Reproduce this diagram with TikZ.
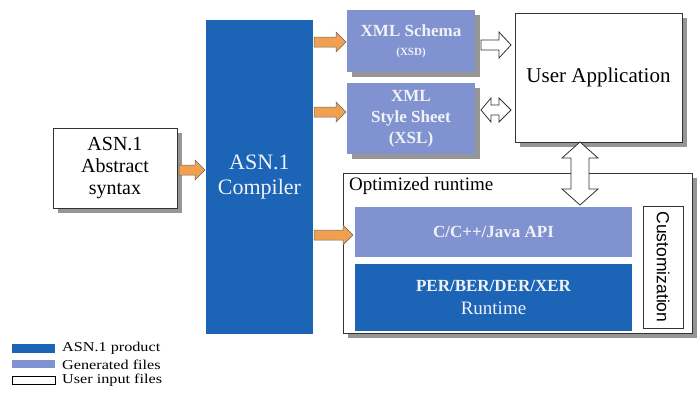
\documentclass[tikz,border=0pt]{standalone}
\usepackage{fontspec}
\setmainfont{Liberation Serif}
\newfontfamily\arialf{Liberation Sans}
\newfontfamily\legf[FakeStretch=1.2]{Liberation Serif}
\usetikzlibrary{calc}
\definecolor{darkblue}{RGB}{28,100,182}
\definecolor{lightblue}{RGB}{128,147,208}
\definecolor{orangef}{RGB}{240,160,80}
\definecolor{shadowgray}{RGB}{150,150,150}
\definecolor{txtwhite}{RGB}{240,242,248}
\begin{document}
\begin{tikzpicture}[x=1pt,y=-1pt,
  box/.style={draw=black!80,line width=0.9pt,fill=white,inner sep=0pt,align=center},
  shadowed/.style={preaction={fill=shadowgray,transform canvas={xshift=5pt,yshift=-5pt}}},
  gen/.style={fill=lightblue,draw=none,inner sep=0pt,align=center,text=txtwhite},
  prod/.style={fill=darkblue,draw=none,inner sep=0pt,align=center,text=txtwhite},
  orarrow/.style={fill=orangef,draw=black!60,line width=0.5pt},
  hollow/.style={fill=white,draw=black!80,line width=0.8pt},
  legtext/.style={anchor=west,inner sep=0pt,font=\legf\fontsize{13.5}{14}\selectfont}
]
\useasboundingbox (0,0) rectangle (699,399);

% nodes
\node[box,shadowed,minimum width=124pt,minimum height=80pt,font=\fontsize{20}{22}\selectfont] (abs) at (115,168) {ASN.1\\Abstract\\syntax};
\node[prod,minimum width=107pt,minimum height=314pt,font=\fontsize{22}{25}\selectfont] (comp) at (259.5,177) {ASN.1\\Compiler};
\node[gen,shadowed,minimum width=128pt,minimum height=62pt,font=\fontsize{17}{19}\selectfont] (xsd) at (411,41) {{\bfseries XML Schema}\\{\bfseries\fontsize{11}{12}\selectfont (XSD)}};
\node[gen,shadowed,minimum width=128pt,minimum height=71pt,font=\bfseries\fontsize{17}{21}\selectfont] (xsl) at (411,118.5) {XML\\Style Sheet\\(XSL)};
\node[box,shadowed,minimum width=167pt,minimum height=129pt,font=\fontsize{21}{24}\selectfont] (user) at (598.5,77.5) {User Application};
\node[box,shadowed,minimum width=349pt,minimum height=160pt] (rt) at (517.5,253) {};
\node[anchor=north west,inner sep=0pt,font=\fontsize{19}{20}\selectfont] (rtl) at (349,177) {Optimized runtime};
\node[gen,minimum width=277pt,minimum height=50pt,font=\bfseries\fontsize{17}{19}\selectfont] (api) at (493.5,232) {C/C++/Java API};
\node[prod,minimum width=277pt,minimum height=67pt,font=\fontsize{19}{23}\selectfont] (per) at (493.5,297.5) {{\bfseries\fontsize{17}{19}\selectfont PER/BER/DER/XER}\\Runtime};
\node[box,line width=0.8pt,minimum width=40pt,minimum height=122pt] (cust) at (663,267) {};
\node[rotate=-90,inner sep=0pt,font=\arialf\fontsize{17.5}{19}\selectfont] (custt) at (cust.center) {Customization};

% orange arrows
\newcommand{\orarr}[3]{% x1, x2, y
  \draw[orarrow] (#1,#3-5) -- (#2-10,#3-5) -- (#2-10,#3-10) -- (#2,#3) -- (#2-10,#3+10) -- (#2-10,#3+5) -- (#1,#3+5) -- cycle;}
\orarr{179}{205}{170}
\orarr{314}{346}{42}
\orarr{314}{346}{112}
\orarr{314}{353}{235}

% hollow arrows
\draw[hollow] (481,40) -- (499,40) -- (499,32) -- (511,45) -- (499,58) -- (499,50) -- (481,50) -- cycle;
\draw[hollow] (481,110) -- (491,98) -- (491,105) -- (499,105) -- (499,98) -- (511,110) -- (499,122) -- (499,115) -- (491,115) -- (491,122) -- cycle;
\draw[hollow] (580,142) -- (598,158) -- (589,158) -- (589,189) -- (598,189) -- (580,205) -- (562,189) -- (571,189) -- (571,158) -- (562,158) -- cycle;

% legend
\fill[darkblue] (12,344) rectangle (55,353);
\node[legtext] (l1) at (62,348.5) {ASN.1 product};
\fill[lightblue] (12,360) rectangle (55,368);
\node[legtext] (l2) at (62,364.5) {Generated files};
\draw[black,line width=0.9pt] (12,376) rectangle (55,384);
\node[legtext] (l3) at (62,380.5) {User input files};
\end{tikzpicture}
\end{document}
